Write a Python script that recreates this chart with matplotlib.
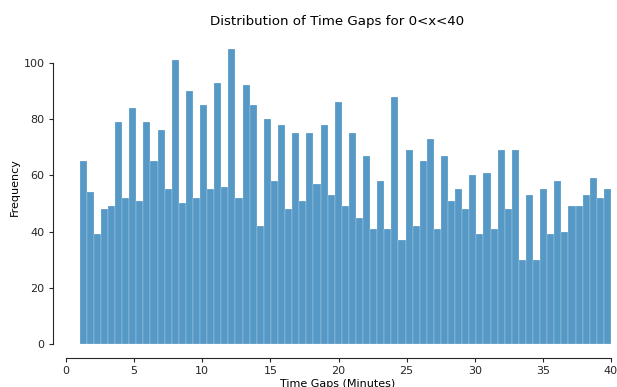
import numpy as np
import matplotlib
matplotlib.use("Agg")
import matplotlib.pyplot as plt

# Histogram data (75 bins between 1 and 40 minutes)
bin_start = 1.0
bin_end = 40.0
counts = [65, 54, 39, 48, 49, 79, 52, 84, 51, 79, 65, 76, 55, 101, 50, 90, 52, 85, 55,
          93, 56, 105, 52, 92, 85, 42, 80, 58, 78, 48, 75, 51, 75, 57, 78, 53, 86, 49,
          75, 45, 67, 41, 58, 41, 88, 37, 69, 42, 65, 73, 41, 67, 51, 55, 48, 60, 39,
          61, 41, 69, 48, 69, 30, 53, 30, 55, 39, 58, 40, 49, 49, 53, 59, 52, 55]
x_ticks = [0, 5, 10, 15, 20, 25, 30, 35, 40]
y_ticks = [0, 20, 40, 60, 80, 100]

edges = np.linspace(bin_start, bin_end, len(counts) + 1)
centers = (edges[:-1] + edges[1:]) / 2

W, H = 617, 387
fig = plt.figure(figsize=(W / 100, H / 100), dpi=100)

# axes placement in pixels
xlim = (-0.95, 41.95)
ylim = (0, 110.25)
px_per_x = (611 - 66) / 40.0
left_px = 66 + xlim[0] * px_per_x
right_px = 66 + xlim[1] * px_per_x
bottom_px = 344
px_per_y = (344 - 63) / 100.0
top_px = bottom_px - ylim[1] * px_per_y
ax_w = right_px - left_px
ax_h = bottom_px - top_px
ax = fig.add_axes([left_px / W, 1 - bottom_px / H, ax_w / W, ax_h / H])

ax.hist(centers, bins=edges, weights=counts, color='#1f77b4', alpha=0.75,
        edgecolor='white', linewidth=0.2)
ax.set_xlim(*xlim)
ax.set_ylim(*ylim)
ax.set_xticks(x_ticks)
ax.set_yticks(y_ticks)
ax.tick_params(labelsize=8, colors='#262626', length=3.2, width=0.8, pad=3)

for s in ['top', 'right']:
    ax.spines[s].set_visible(False)
for s in ['left', 'bottom']:
    ax.spines[s].set_linewidth(0.8)
    ax.spines[s].set_color('#262626')
ax.spines['bottom'].set_position(('outward', 10))
ax.spines['bottom'].set_bounds(0, 40)
ax.spines['left'].set_bounds(0, 100)

ax.set_ylabel('Frequency', fontsize=8)
ax.set_xlabel('Time Gaps (Minutes)', fontsize=8)
ax.xaxis.set_label_coords((338 - left_px) / ax_w, -(379 - bottom_px) / ax_h)
ax.yaxis.set_label_coords((20 - left_px) / ax_w, (bottom_px - 187) / ax_h)

fig.text(337.5 / W, 1 - 22 / H, 'Distribution of Time Gaps for 0<x<40',
         fontsize=9.6, ha='center', va='center')

fig.savefig('out.png', dpi=100)
